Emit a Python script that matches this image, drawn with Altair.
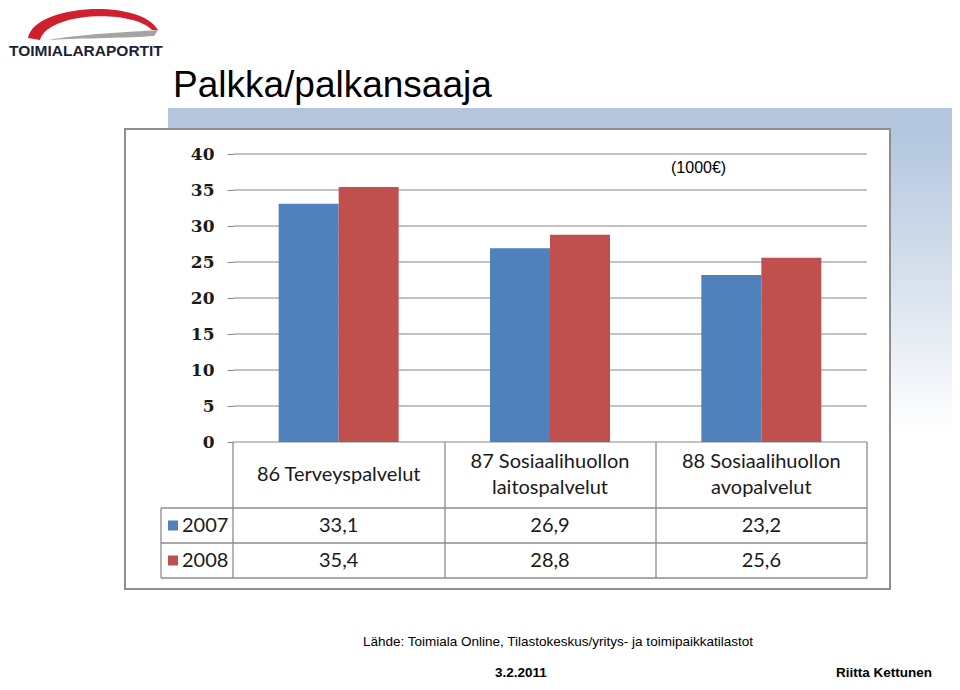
import altair as alt
import pandas as pd

# ---- data ----
categories = ["86 Terveyspalvelut", "87 Sosiaalihuollon\nlaitospalvelut", "88 Sosiaalihuollon\navopalvelut"]
years = ["2007", "2008"]
values_2007 = [33.1, 26.9, 23.2]
values_2008 = [35.4, 28.8, 25.6]
y_ticks = [0, 5, 10, 15, 20, 25, 30, 35, 40]
colors = ["#4f81bd", "#c0504d"]

title_text = "Palkka/palkansaaja"
unit_text = "(1000€)"
logo_text = "TOIMIALARAPORTIT"
source_text = "Lähde: Toimiala Online, Tilastokeskus/yritys- ja toimipaikkatilastot"
date_text = "3.2.2011"
author_text = "Riitta Kettunen"

rows = []
for yr, vals in zip(years, [values_2007, values_2008]):
    for c, v in zip(categories, vals):
        rows.append({"category": c, "year": yr, "value": v})
df = pd.DataFrame(rows)
cat_df = pd.DataFrame({"category": categories})
year_df = pd.DataFrame({"year": years})
tick_df = pd.DataFrame({"tick": y_ticks})
dummy = pd.DataFrame({"d": [0]})

W, H = 634, 288
GRID = "#868686"
LINE = "#8c8c8c"
TXT = "#1a1a1a"
TABLE_FONT = "Lato"
SANS = "Liberation Sans"

x_enc = alt.X("category:N", sort=categories,
              scale=alt.Scale(paddingInner=0, paddingOuter=0), axis=None)
y_axis = alt.Axis(values=y_ticks, domain=False, grid=False, tickSize=6, tickColor=GRID,
                  tickWidth=1, labelFont="DejaVu Serif", labelFontWeight="bold",
                  labelFontSize=17, labelColor=TXT, labelPadding=13, title=None, zindex=1)
y_scale = alt.Scale(domain=[0, 40], nice=False, zero=True)


def rect(x, x2, y, y2, **kw):
    return alt.Chart(dummy).mark_rect(**kw).encode(
        x=alt.value(x), x2=alt.value(x2), y=alt.value(y), y2=alt.value(y2))


def rule(x, x2, y, y2, color=LINE, width=1.3):
    return alt.Chart(dummy).mark_rule(color=color, strokeWidth=width).encode(
        x=alt.value(x), x2=alt.value(x2), y=alt.value(y), y2=alt.value(y2))


def label(txt, x, y, **kw):
    return alt.Chart(dummy).mark_text(text=txt, **kw).encode(x=alt.value(x), y=alt.value(y))


def shape(path, x, y, color):
    return alt.Chart(dummy).mark_point(shape=path, size=4, filled=True, opacity=1,
                                       color=color, strokeWidth=0).encode(
        x=alt.value(x), y=alt.value(y))


OX, OY = 233, 154  # page position of plot origin

band_gradient = alt.Gradient(
    gradient="linear", x1=0, x2=0, y1=0, y2=1,
    stops=[alt.GradientStop(color="#b3c6de", offset=0),
           alt.GradientStop(color="#b3c6de", offset=0.07),
           alt.GradientStop(color="#d5dfec", offset=0.5),
           alt.GradientStop(color="#ffffff", offset=1)])

deco = [
    rect(168 - OX, 957 - OX, 108 - OY, 432 - OY, fill=band_gradient),
    rect(125 - OX, 890 - OX, 129 - OY, 589 - OY, fill="white", stroke="#8e8e8e", strokeWidth=2),
    label(title_text, 173 - OX, 97 - OY, align="left", baseline="alphabetic",
          font=SANS, fontSize=37, color="#000000"),
    shape("M -60 16 C -54 -18 52 -24 70 8 L 64 8 C 44 -13 -40 -10 -48 18 Z",
          88 - OX, 22 - OY, "#d0202e"),
    shape("M 70 8 C 42 10 -8 12 -40 18 C -3 16 40 16 66 14 Z",
          88 - OX, 22 - OY, "#a4a4a4"),
    label(logo_text, 9 - OX, 56 - OY, align="left", baseline="alphabetic",
          font=SANS, fontSize=15.5, fontWeight="bold", color="#1b1f3b"),
    label(unit_text, 671 - OX, 168 - OY, align="left", baseline="middle",
          font=SANS, fontSize=16, color="#000000"),
    label(source_text, 363 - OX, 646 - OY, align="left", baseline="alphabetic",
          font=SANS, fontSize=13.5, color="#000000"),
    label(date_text, 495 - OX, 677 - OY, align="left", baseline="alphabetic",
          font=SANS, fontSize=13.5, fontWeight="bold", color="#000000"),
    label(author_text, 932 - OX, 677 - OY, align="right", baseline="alphabetic",
          font=SANS, fontSize=13.5, fontWeight="bold", color="#000000"),
]

grid = alt.Chart(tick_df).mark_rule(color=GRID, strokeWidth=1).encode(
    y=alt.Y("tick:Q", scale=y_scale, axis=y_axis),
    x=alt.value(0), x2=alt.value(W))

bars = alt.Chart(df).mark_bar().encode(
    x=x_enc,
    xOffset=alt.XOffset("year:N", sort=years,
                        scale=alt.Scale(paddingInner=0, paddingOuter=0.761)),
    y=alt.Y("value:Q", scale=y_scale, axis=y_axis),
    color=alt.Color("year:N", sort=years, scale=alt.Scale(domain=years, range=colors), legend=None),
)

# table frame
t_top, r1, r2, r3 = 442 - OY, 508 - OY, 543 - OY, 578 - OY
xl, c0, c1, c2, c3 = 161 - OX, 233 - OX, 445 - OX, 656 - OX, 867 - OX
table_lines = [
    rule(xl, c3, r1, r1), rule(xl, c3, r2, r2), rule(xl, c3, r3, r3),
    rule(xl, xl, r1, r3),
    rule(c0, c0, t_top, r3), rule(c1, c1, t_top, r3),
    rule(c2, c2, t_top, r3), rule(c3, c3, t_top, r3),
]

header_one = alt.Chart(cat_df).transform_filter(
    "indexof(datum.category, '\\n') < 0"
).mark_text(font=TABLE_FONT, fontSize=20, color=TXT, baseline="middle").encode(
    x=x_enc, y=alt.value(475 - OY), text="category:N")

header_two = alt.Chart(cat_df).transform_filter(
    "indexof(datum.category, '\\n') >= 0"
).mark_text(font=TABLE_FONT, fontSize=20, color=TXT, lineBreak="\n", lineHeight=26,
            baseline="middle").encode(
    x=x_enc, y=alt.value(462 - OY), text="category:N")

main = alt.layer(*deco, grid, bars, *table_lines, header_one, header_two)

row_scale = alt.Scale(type="point", domain=years, range=[525.5 - OY, 560.5 - OY], padding=0)
row_y = alt.Y("year:N", sort=years, scale=row_scale, axis=None)

squares = alt.Chart(year_df).mark_square(size=100, opacity=1).encode(
    x=alt.value(173 - OX), y=row_y,
    color=alt.Color("year:N", sort=years, scale=alt.Scale(domain=years, range=colors), legend=None))
row_labels = alt.Chart(year_df).mark_text(
    font=TABLE_FONT, fontSize=20, color=TXT, align="left", baseline="middle").encode(
    x=alt.value(182 - OX), y=row_y, text="year:N")
cells = alt.Chart(df).transform_calculate(
    label="replace(format(datum.value, '.1f'), '.', ',')"
).mark_text(font=TABLE_FONT, fontSize=20, color=TXT, baseline="middle").encode(
    x=x_enc, y=row_y, text="label:N")

table = alt.layer(squares, row_labels, cells)

chart = alt.layer(main, table).resolve_scale(y="independent").properties(
    width=W, height=H,
    padding={"left": OX - 8, "top": OY - 8, "right": 944 - (OX - 8) - W, "bottom": 674 - (OY - 8) - H},
    autosize=alt.AutoSizeParams(type="none"),
    background="white",
).configure_view(stroke=None)

chart.save("out.html", embed_options={"renderer": "svg", "actions": False})
